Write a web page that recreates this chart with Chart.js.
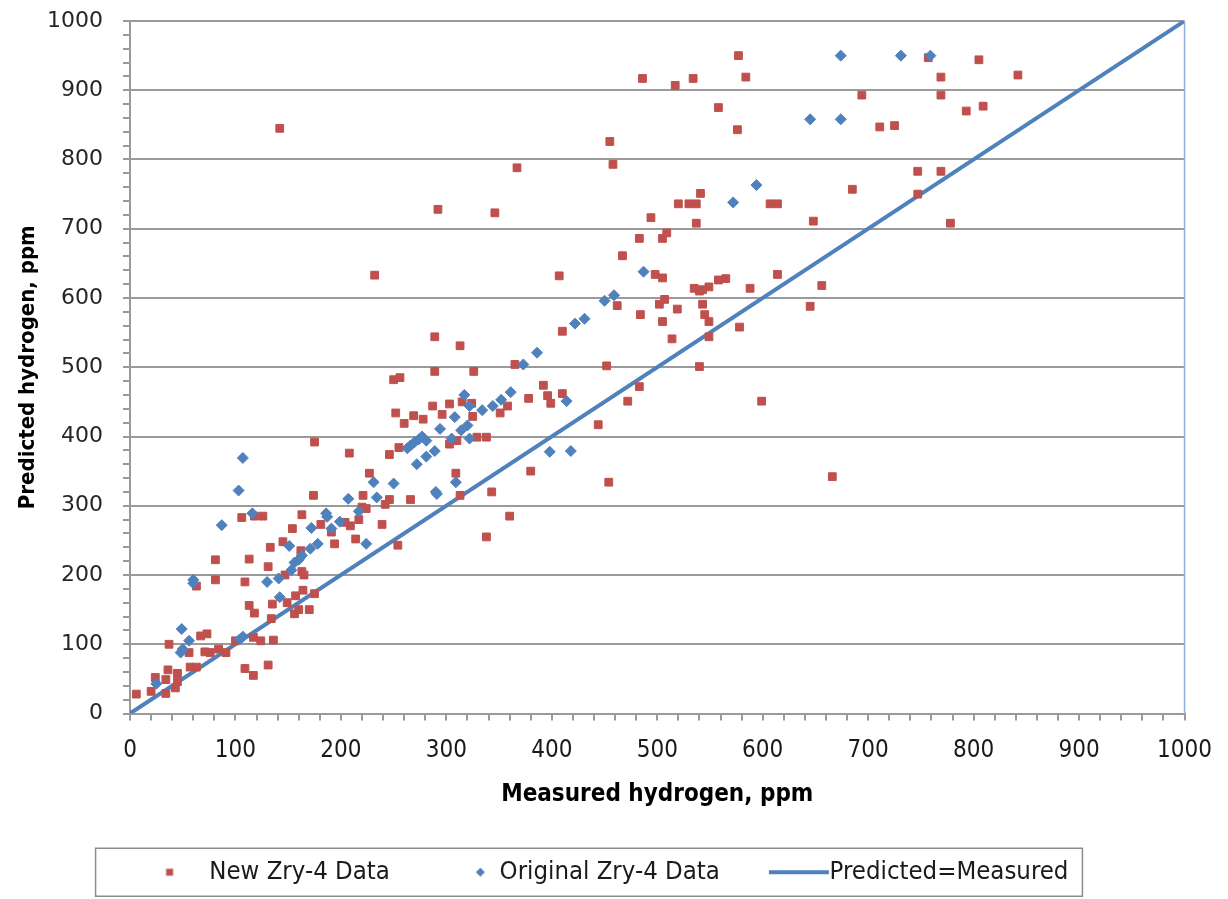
<!DOCTYPE html>
<html>
<head>
<meta charset="utf-8">
<title>Predicted vs measured hydrogen</title>
<script src="https://cdn.jsdelivr.net/npm/chart.js@4.4.1/dist/chart.umd.min.js"></script>
<style>
  html, body { margin: 0; padding: 0; background: #fff; }
  #wrap { width: 1228px; height: 899px; }
</style>
</head>
<body>
<div id="wrap"><canvas id="chartCanvas" width="1228" height="899"></canvas></div>
<script>
// New Zry-4 data: measured / predicted hydrogen, ppm
const newMeasured = [6, 20, 24, 34, 34, 36, 37, 43, 45, 45, 56, 57, 63, 63, 67, 71, 73, 76, 81, 81,
  84, 91, 100, 106, 109, 109, 113, 113, 117, 117, 118, 118, 124, 126, 131, 131, 133, 134, 135, 136,
  142, 145, 147, 149, 154, 156, 157, 160, 162, 163, 163, 164, 165, 170, 174, 175, 175, 181, 191, 194,
  204, 208, 209, 214, 217, 220, 221, 224, 227, 232, 239, 242, 246, 246, 250, 252, 254, 255, 256, 260,
  266, 269, 278, 287, 289, 289, 292, 296, 303, 303, 309, 310, 313, 313, 315, 324, 325, 326, 329, 338,
  338, 343, 346, 351, 358, 360, 365, 367, 378, 380, 392, 396, 399, 407, 410, 410, 444, 452, 454, 455,
  458, 462, 467, 472, 483, 483, 484, 486, 494, 498, 502, 505, 505, 505, 507, 509, 514, 517, 519, 520,
  530, 534, 535, 537, 537, 540, 540, 541, 543, 543, 545, 549, 549, 549, 558, 558, 565, 576, 577, 578,
  584, 588, 599, 607, 614, 614, 645, 648, 656, 666, 685, 694, 711, 725, 747, 747, 757, 769, 769, 769,
  778, 793, 805, 809, 842];
const newPredicted = [28, 32, 52, 29, 49, 63, 100, 37, 46, 58, 88, 67, 67, 184, 112, 89, 115, 88, 193, 222,
  93, 88, 105, 283, 65, 190, 156, 223, 55, 110, 145, 285, 105, 285, 70, 212, 240, 137, 158, 106,
  845, 248, 200, 160, 267, 144, 170, 150, 235, 205, 287, 178, 200, 150, 315, 173, 392, 273, 262, 245,
  276, 376, 271, 252, 280, 298, 315, 296, 347, 633, 273, 302, 309, 374, 482, 434, 243, 384, 485, 419,
  309, 430, 425, 444, 494, 544, 728, 432, 389, 447, 347, 394, 315, 531, 450, 448, 429, 494, 399, 255,
  399, 320, 723, 434, 444, 285, 504, 788, 455, 350, 474, 459, 448, 632, 462, 552, 417, 502, 334, 826,
  793, 589, 661, 451, 472, 686, 576, 917, 716, 634, 591, 566, 629, 686, 598, 694, 541, 907, 584, 736,
  736, 917, 614, 708, 736, 501, 610, 751, 591, 612, 576, 544, 566, 616, 626, 875, 628, 843, 950, 558,
  919, 614, 451, 736, 634, 736, 588, 711, 618, 342, 757, 893, 847, 849, 750, 783, 947, 783, 893, 919,
  708, 870, 944, 877, 922];

// Original Zry-4 data
const origMeasured = [25, 48, 49, 50, 56, 60, 60, 87, 103, 104, 107, 107, 116, 130, 141, 142, 151, 153, 156, 160,
  163, 171, 172, 178, 186, 187, 191, 199, 207, 217, 224, 231, 234, 250, 263, 266, 270, 272, 274, 277,
  281, 281, 289, 290, 291, 294, 305, 308, 309, 314, 317, 320, 322, 322, 334, 344, 352, 361, 373, 386,
  398, 414, 418, 422, 431, 450, 459, 487, 572, 594, 645, 674, 674, 731, 759];
const origPredicted = [43, 88, 122, 93, 105, 188, 193, 272, 322, 107, 111, 369, 289, 190, 195, 168, 242, 207, 218, 222,
  228, 238, 268, 245, 289, 284, 267, 277, 310, 292, 245, 334, 312, 332, 383, 387, 392, 360, 396, 400,
  371, 394, 379, 320, 317, 411, 397, 428, 334, 409, 460, 416, 397, 444, 438, 444, 453, 464, 504, 521,
  378, 451, 379, 563, 570, 596, 604, 638, 738, 763, 858, 858, 950, 950, 950];

// 1:1 reference line
const lineMeasured = [0, 1000];
const linePredicted = [0, 1000];

// axis labels every 100 ppm, minor ticks every 20
const tickLabels = ['0', '100', '200', '300', '400', '500', '600', '700', '800', '900', '1000'];
const seriesNames = ['New Zry-4 Data', 'Original Zry-4 Data', 'Predicted=Measured'];

const RED = '#c0504d';
const BLUE = '#4f81bd';
const GRID = '#9a9a9a';
const NARROW = "'DejaVu Sans Condensed', 'Liberation Sans Narrow', sans-serif";

const toPoints = (xs, ys) => xs.map((x, i) => ({ x: x, y: ys[i] }));
const tickText = v => (v % 100 === 0 ? tickLabels[v / 100] : '');

// legend symbols: a 110px strip centred on the 80px legend box,
// so each marker can sit where it belongs relative to its text
function legendMarker(kind, color) {
    const c = document.createElement('canvas');
    c.width = 110;
    c.height = 12;
    const g = c.getContext('2d');
    g.fillStyle = color;
    if (kind === 'square') {
        g.fillRect(64.5, 2.5, 7, 7);
    } else if (kind === 'diamond') {
        g.beginPath();
        g.moveTo(88.5, 1.5);
        g.lineTo(93, 6);
        g.lineTo(88.5, 10.5);
        g.lineTo(84, 6);
        g.closePath();
        g.fill();
    } else {
        g.fillRect(47, 4, 60, 4);
    }
    return c;
}
const legendMarkers = [legendMarker('square', RED), legendMarker('diamond', BLUE), legendMarker('line', BLUE)];

// frame drawn around the legend row
const legendFrame = {
    id: 'legendFrame',
    afterDraw(chart) {
        const boxes = chart.legend && chart.legend.legendHitBoxes;
        if (!boxes || !boxes.length) return;
        const first = boxes[0];
        const last = boxes[boxes.length - 1];
        const cy = first.top + first.height / 2;
        const left = first.left - 21;
        const right = last.left + last.width + 14;
        const ctx = chart.ctx;
        ctx.save();
        ctx.strokeStyle = '#8c8c8c';
        ctx.lineWidth = 1.5;
        ctx.strokeRect(left, cy - 24, right - left, 48);
        ctx.restore();
    }
};

// right edge of the plot area
const plotEdge = {
    id: 'plotEdge',
    afterDatasetsDraw(chart) {
        const a = chart.chartArea;
        const ctx = chart.ctx;
        ctx.save();
        ctx.strokeStyle = '#8eb0d8';
        ctx.lineWidth = 1.5;
        ctx.beginPath();
        ctx.moveTo(a.right, a.top);
        ctx.lineTo(a.right, a.bottom);
        ctx.stroke();
        ctx.restore();
    }
};

const ctx = document.getElementById('chartCanvas').getContext('2d');
new Chart(ctx, {
    type: 'scatter',
    data: {
        datasets: [
            {
                label: seriesNames[0],
                data: toPoints(newMeasured, newPredicted),
                pointStyle: 'rect',
                pointRadius: 5.5,
                pointBorderWidth: 1,
                backgroundColor: RED,
                borderColor: RED,
                order: 1
            },
            {
                label: seriesNames[1],
                data: toPoints(origMeasured, origPredicted),
                pointStyle: 'rectRot',
                pointRadius: 5.5,
                pointBorderWidth: 1,
                backgroundColor: BLUE,
                borderColor: BLUE,
                order: 0
            },
            {
                label: seriesNames[2],
                type: 'line',
                data: toPoints(lineMeasured, linePredicted),
                showLine: true,
                pointRadius: 0,
                borderColor: BLUE,
                backgroundColor: BLUE,
                borderWidth: 4,
                order: 2
            }
        ]
    },
    options: {
        responsive: false,
        animation: false,
        layout: { padding: { top: 0, right: 43, bottom: 4, left: 0 } },
        plugins: {
            tooltip: { enabled: false },
            legend: {
                position: 'bottom',
                labels: {
                    usePointStyle: true,
                    pointStyleWidth: 80,
                    boxHeight: 7,
                    padding: 17,
                    color: '#1a1a1a',
                    font: { family: NARROW, size: 25.5 },
                    sort: (a, b) => a.datasetIndex - b.datasetIndex,
                    generateLabels: chart => {
                        const items = Chart.defaults.plugins.legend.labels.generateLabels(chart);
                        items.forEach(it => { it.pointStyle = legendMarkers[it.datasetIndex]; });
                        return items;
                    }
                }
            }
        },
        scales: {
            x: {
                type: 'linear',
                min: 0,
                max: 1000,
                afterFit: s => { s.height = 129; },
                grid: { drawOnChartArea: false, tickColor: GRID, tickLength: 7, lineWidth: 2 },
                border: { color: GRID, width: 2 },
                ticks: {
                    stepSize: 20,
                    autoSkip: false,
                    maxRotation: 0,
                    padding: 16,
                    color: '#1a1a1a',
                    font: { family: NARROW, size: 24 },
                    callback: tickText
                },
                title: {
                    display: true,
                    text: 'Measured hydrogen, ppm',
                    color: '#000',
                    font: { family: NARROW, size: 24, weight: 'bold' },
                    padding: { top: 0, bottom: 33 }
                }
            },
            y: {
                type: 'linear',
                min: 0,
                max: 1000,
                afterFit: s => { s.width = 130; s.paddingTop = 21; },
                grid: {
                    color: c => (c.tick && c.tick.value % 100 === 0 ? GRID : 'rgba(0,0,0,0)'),
                    tickColor: GRID,
                    tickLength: 7,
                    lineWidth: 2
                },
                border: { color: GRID, width: 2 },
                ticks: {
                    stepSize: 20,
                    autoSkip: false,
                    padding: 20,
                    color: '#262626',
                    font: { family: "'DejaVu Sans', Verdana, sans-serif", size: 22 },
                    callback: tickText
                },
                title: {
                    display: true,
                    text: 'Predicted hydrogen, ppm',
                    color: '#000',
                    font: { family: NARROW, size: 22, weight: 'bold' },
                    padding: { top: 15, bottom: 0 }
                }
            }
        }
    },
    plugins: [legendFrame, plotEdge]
});
</script>
</body>
</html>
